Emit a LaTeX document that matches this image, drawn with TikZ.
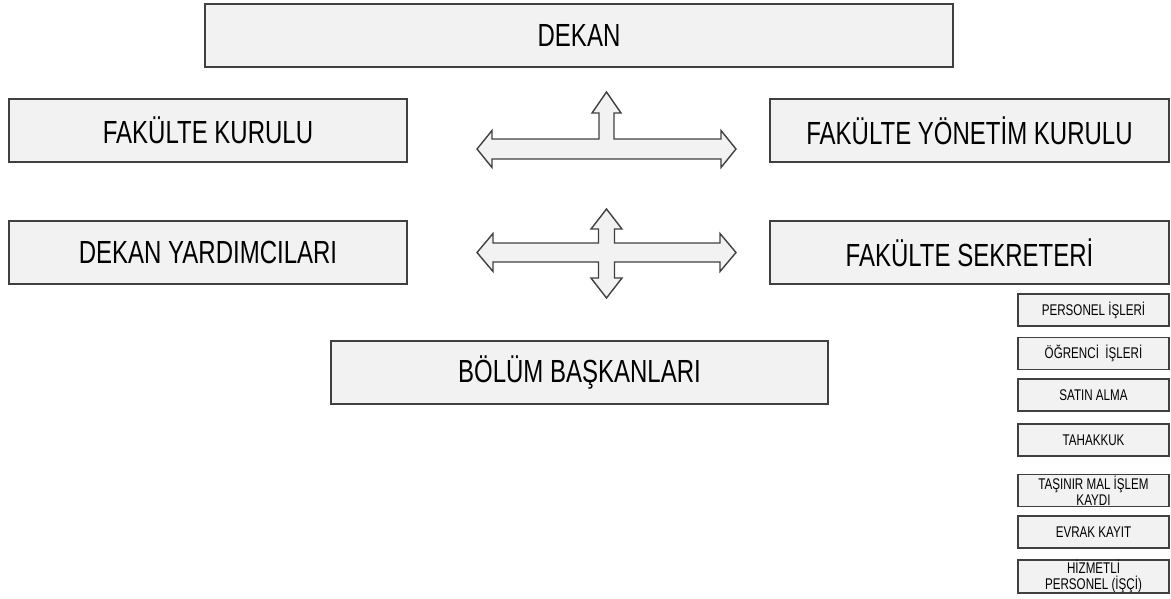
\documentclass[tikz,border=0pt]{standalone}
\usepackage{fontspec}
\setmainfont{Liberation Sans}[FakeStretch=0.75]
\definecolor{boxfill}{HTML}{F2F2F2}
\definecolor{boxline}{HTML}{404040}
\tikzset{
  bigbox/.style={draw=boxline, fill=boxfill, line width=1.7pt, inner sep=0pt,
    minimum height=63pt, font=\fontsize{32}{36}\selectfont},
  smallbox/.style={draw=boxline, fill=boxfill, line width=1.3pt, inner sep=0pt,
    minimum width=151pt, minimum height=32pt, align=center,
    font=\fontsize{15.5}{16}\selectfont},
  blockarrow/.style={draw=boxline, fill=boxfill, line width=1.4pt, line join=miter}
}
\begin{document}
\begin{tikzpicture}[x=1pt,y=-1pt]
\useasboundingbox (0,0) rectangle (1171,598);
% main boxes
\node[bigbox, minimum width=748pt] (dekan) at (579,35.5) {DEKAN};
\node[bigbox, minimum width=398pt] (fk) at (208,130.5) {FAKÜLTE KURULU};
\node[bigbox, minimum width=399pt] (fyk) at (969.5,130.5) {FAKÜLTE YÖNETİM KURULU};
\node[bigbox, minimum width=398pt] (dy) at (208,252.5) {DEKAN YARDIMCILARI};
\node[bigbox, minimum width=399pt] (fs) at (969.5,252.5) {FAKÜLTE SEKRETERİ};
\node[bigbox, minimum width=497pt] (bb) at (579.5,372.5) {BÖLÜM BAŞKANLARI};
% small boxes
\node[smallbox] (s1) at (1093.5,310) {PERSONEL İŞLERİ};
\node[smallbox] (s2) at (1093.5,353.5) {ÖĞRENCİ\ \ İŞLERİ};
\node[smallbox] (s3) at (1093.5,395) {SATIN ALMA};
\node[smallbox] (s4) at (1093.5,440) {TAHAKKUK};
\node[smallbox] (s5) at (1093.5,490.5) {TAŞINIR MAL İŞLEM\\KAYDI};
\node[smallbox] (s6) at (1093.5,532) {EVRAK KAYIT};
\node[smallbox] (s7) at (1093.5,576.5) {HİZMETLİ\\PERSONEL (İŞÇİ)};
% block arrow 1 (left, right, up)
\draw[blockarrow] (477,149) -- (492,130.5) -- (492,139) -- (599,139) -- (599,113)
  -- (592,113) -- (606.5,92) -- (621,113) -- (614,113) -- (614,139) -- (721,139)
  -- (721,130.5) -- (736,149) -- (721,167.5) -- (721,159) -- (492,159)
  -- (492,167.5) -- cycle;
% block arrow 2 (left, right, up, down)
\draw[blockarrow] (477,252.5) -- (493,233.5) -- (493,243) -- (598.5,243) -- (598.5,229)
  -- (591,229) -- (606.5,209) -- (622,229) -- (614.5,229) -- (614.5,243) -- (720,243)
  -- (720,233.5) -- (736,252.5) -- (720,271.5) -- (720,262) -- (614.5,262)
  -- (614.5,278) -- (622,278) -- (606.5,298) -- (591,278) -- (598.5,278)
  -- (598.5,262) -- (493,262) -- (493,271.5) -- cycle;
\end{tikzpicture}
\end{document}
